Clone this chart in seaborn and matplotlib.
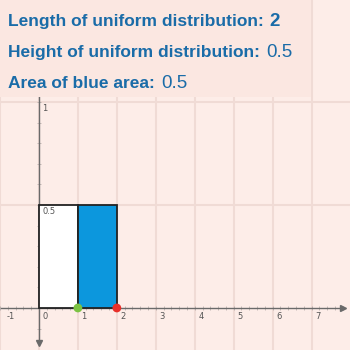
import matplotlib
matplotlib.use("Agg")
import matplotlib.pyplot as plt
import seaborn as sns
import numpy as np
import pandas as pd
from matplotlib.patches import Rectangle

# ---- data ----
length_value = 2
height_value = 0.5
area_value = 0.5
info_labels = ["Length of uniform distribution:", "Height of uniform distribution:", "Area of blue area:"]
info_values = ["2", "0.5", "0.5"]
info_weights = ["bold", "normal", "normal"]

bar_left = [0, 1]
bar_widths = [1, 1]
bar_heights = [0.5, 0.5]
bar_colors = ["#ffffff", "#0c97dd"]

point_x = [1, 2]
point_y = [0, 0]
point_colors = ["#7cc343", "#e8302a"]

x_ticks = [-1, 0, 1, 2, 3, 4, 5, 6, 7]
x_tick_labels = ["-1", "0", "1", "2", "3", "4", "5", "6", "7"]
y_ticks = [0.5, 1]
y_tick_labels = ["0.5", "1"]

BG = "#fdede8"
PANEL = "#fbe7e1"
GRID = "#f0dbd5"
AXIS = "#6a6a6a"
TEXT_BLUE = "#1a6ca8"

sns.set_style("white")
plt.rcParams["font.family"] = ["Liberation Sans", "DejaVu Sans"]

fig = plt.figure(figsize=(3.5, 3.5), dpi=100)
fig.patch.set_facecolor(BG)
ax = fig.add_axes([0, 0, 1, 1])
ax.set_facecolor(BG)
ax.set_xlim(-0.987, 7.987)
ax.set_ylim(-0.204, 1.495)

# grid
for xv in x_ticks:
    ax.axvline(xv, color=GRID, lw=1.5, zorder=0)
for yv in y_ticks:
    ax.axhline(yv, color=GRID, lw=1.5, zorder=0)

# axes lines via spines
for s in ["top", "right"]:
    ax.spines[s].set_visible(False)
ax.spines["left"].set_position(("data", 0))
ax.spines["bottom"].set_position(("data", 0))
ax.spines["left"].set_color(AXIS)
ax.spines["bottom"].set_color(AXIS)
ax.spines["left"].set_linewidth(1.0)
ax.spines["bottom"].set_linewidth(1.0)
ax.spines["bottom"].set_bounds(-0.987, 7.8)
ax.spines["left"].set_bounds(-0.17, 1.495)
ax.spines["left"].set_zorder(1)
ax.spines["bottom"].set_zorder(1)

ax.set_xticks(x_ticks)
ax.set_xticks(np.arange(-1, 7.81, 0.2), minor=True)
ax.set_yticks(y_ticks)
ax.set_yticks(np.arange(-0.1, 1.45, 0.1), minor=True)
ax.tick_params(axis="both", which="both", direction="inout", colors="#bdb2af",
               labelbottom=False, labelleft=False, bottom=True, left=True)
ax.tick_params(axis="both", which="major", length=3, width=0.7)
ax.tick_params(axis="both", which="minor", length=2.5, width=0.6)

# arrowheads
ax.plot([7.8], [0], marker=">", color=AXIS, markersize=5, clip_on=False, zorder=2)
ax.plot([0], [-0.17], marker="v", color=AXIS, markersize=5, clip_on=False, zorder=2)

# tick labels
for xv, lab in zip(x_ticks, x_tick_labels):
    xp = max(xv, -0.92)
    ax.annotate(lab, xy=(xp, 0), xytext=(2.5, -3), textcoords="offset points",
                ha="left", va="top", fontsize=6, color="#555555",
                family="DejaVu Sans", zorder=3)
for yv, lab in zip(y_ticks, y_tick_labels):
    ax.annotate(lab, xy=(0, yv), xytext=(2.5, -1.5), textcoords="offset points",
                ha="left", va="top", fontsize=6, color="#555555",
                family="DejaVu Sans", zorder=5)

# rectangles
ax.bar(bar_left, bar_heights, width=bar_widths, align="edge", color=bar_colors,
       edgecolor="#222222", linewidth=1.3, zorder=4)

# points
df_pts = pd.DataFrame({"x": point_x, "y": point_y, "c": point_colors})
sns.scatterplot(data=df_pts, x="x", y="y", hue="c", palette=dict(zip(point_colors, point_colors)),
                s=40, edgecolor="none", legend=False, ax=ax, zorder=6, clip_on=False)
ax.set_xlabel("")
ax.set_ylabel("")

# info panel (in axes coords; axes spans the whole figure)
panel = Rectangle((0, 253 / 350), 311 / 350, 97 / 350, transform=ax.transAxes,
                  facecolor=PANEL, edgecolor="none", zorder=10, clip_on=False)
ax.add_patch(panel)

renderer = fig.canvas.get_renderer()
baselines_px = [26, 57, 88]
for lab, val, w, by in zip(info_labels, info_values, info_weights, baselines_px):
    t = ax.text(8 / 350, 1 - by / 350, lab, transform=ax.transAxes, ha="left", va="baseline",
                fontsize=12.5, fontweight="bold", color=TEXT_BLUE, zorder=11)
    bb = t.get_window_extent(renderer=renderer)
    x_right = (bb.x1 + 6) / fig.bbox.width
    ax.text(x_right, 1 - by / 350, val, transform=ax.transAxes, ha="left", va="baseline",
            fontsize=13.5, fontweight=w, color=TEXT_BLUE, zorder=11)

fig.savefig("out.png", dpi=100, facecolor=BG)
